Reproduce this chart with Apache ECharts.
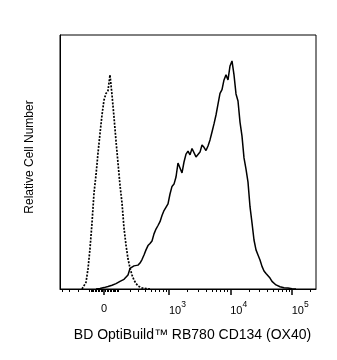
<!DOCTYPE html>
<html>
<head>
<meta charset="utf-8">
<script src="https://cdn.jsdelivr.net/npm/echarts@6/dist/echarts.min.js"></script>
<style>
  html, body { margin: 0; padding: 0; background: #fff; }
  #chart { width: 337px; height: 360px; }
</style>
</head>
<body>
<div id="chart"></div>
<script>
// Histogram bins on a 256-channel biexponential display scale
const binWidth = 2;

// OX40 (CD134) stained cells, relative counts per bin
const stainedStart = 36;
const stained = [
  0, 0, 0.2, 0.4, 0.55, 0.8, 1.0, 1.2, 1.5, 1.7,
  2.1, 2.5, 3.0, 3.3, 3.8, 4.3, 5.5, 8.1, 8.7, 9.1,
  9.3, 9.4, 10.2, 11.6, 13.4, 15.4, 17.1, 17.9, 18.9, 21.7,
  23.6, 25.0, 26.5, 28.9, 30.9, 31.5, 33.5, 37.4, 40.4, 41.3,
  44.1, 49.6, 49.8, 45.7, 50.0, 53.1, 54.3, 52.8, 55.3, 54.7,
  52.0, 52.0, 53.9, 56.7, 55.8, 54.5, 56.3, 58.7, 61.8, 65.0,
  68.5, 72.8, 77.0, 78.5, 82.3, 84.3, 82.3, 87.8, 89.8, 84.3,
  76.8, 74.0, 65.7, 60.2, 51.6, 47.2, 42.1, 32.4, 26.0, 19.3,
  15.4, 13.4, 11.4, 8.9, 7.1, 6.1, 5.5, 4.3, 3.0, 2.4,
  1.6, 1.2, 0.9, 0.7, 0.5, 0.4, 0.35, 0.3, 0.1, 0.05,
  0
];

// Isotype control, relative counts per bin
const isotypeStart = 22;
const isotype = [
  0, 0, 2.6, 7.9, 15.9, 26.0, 37.8, 44.9, 53.5, 61.2,
  68.5, 74.4, 77.0, 78.1, 84.3, 76.4, 67.7, 58.3, 49.6, 40.9,
  33.9, 24.0, 17.3, 11.8, 8.3, 5.5, 3.5, 2.2, 1.2, 0.8,
  0.4, 0.25, 0.15, 0.05, 0
];

// Axis ticks in fluorescence units
const majorTicks = [0, 1e3, 1e4, 1e5];
const majorExponents = ['', '3', '4', '5'];
const minorTicks = [
  -400, -300, -200, -100, -90, -80, -70, -60, -50, -40, -30, -20, -10,
  10, 20, 30, 40, 50, 60, 70, 80, 90, 100, 200, 300, 400, 500, 600, 700, 800, 900,
  2000, 3000, 4000, 5000, 6000, 7000, 8000, 9000,
  20000, 30000, 40000, 50000, 60000, 70000, 80000, 90000, 200000
];

// Biexponential (arcsinh) mapping from fluorescence to display channel
const CH_ZERO = 44, CH_SCALE = 26.7, CH_COFACTOR = 176.8;
const toChannel = v => CH_ZERO + CH_SCALE * Math.asinh(v / CH_COFACTOR);

const toPairs = (start, values) => values.map((y, i) => [start + i * binWidth, y]);

const majorCh = majorTicks.map(toChannel);
const minorCh = minorTicks.map(toChannel);
const powerCh = majorCh.slice(1);

const font = '"Liberation Sans", Arial, sans-serif';

const chart = echarts.init(document.getElementById('chart'), null, { renderer: 'canvas' });
chart.setOption({
  animation: false,
  backgroundColor: '#fff',
  grid: {
    left: 60, top: 35, right: 21, bottom: 71,
    show: true, borderColor: '#000', borderWidth: 1, backgroundColor: 'transparent'
  },
  xAxis: [
    {
      type: 'value', min: 0, max: 256, position: 'bottom',
      name: 'BD OptiBuild™ RB780 CD134 (OX40)',
      nameLocation: 'middle', nameGap: 39,
      nameTextStyle: { fontFamily: font, fontSize: 14, color: '#000', padding: [0, 0, 0, 9] },
      axisLine: { show: true, lineStyle: { color: '#000', width: 1 } },
      axisTick: { show: true, length: 6, customValues: majorCh, lineStyle: { color: '#000', width: 1.5 } },
      axisLabel: {
        show: true, customValues: powerCh, align: 'left', margin: 11,
        formatter: v => {
          let k = 0, best = Infinity;
          majorCh.forEach((c, i) => { const d = Math.abs(c - v); if (d < best) { best = d; k = i; } });
          return '{b|10}{s|' + majorExponents[k] + '}';
        },
        rich: {
          b: { fontFamily: font, fontSize: 11, color: '#000', padding: [5, 0, 0, 0] },
          s: { fontFamily: font, fontSize: 8.5, color: '#000', verticalAlign: 'top' }
        }
      },
      splitLine: { show: false }
    },
    {
      type: 'value', min: 0, max: 256, position: 'bottom',
      axisLine: { show: false },
      axisTick: { show: true, length: 3, customValues: minorCh, lineStyle: { color: '#000', width: 1 } },
      axisLabel: {
        show: true, customValues: [majorCh[0]], margin: 14,
        formatter: () => '0',
        fontFamily: font, fontSize: 11, color: '#000'
      },
      splitLine: { show: false }
    }
  ],
  yAxis: {
    type: 'value', min: 0, max: 100,
    name: 'Relative Cell Number', nameLocation: 'middle', nameGap: 24, nameRotate: 90,
    nameTextStyle: { fontFamily: font, fontSize: 12, color: '#000', padding: [0, 0, 0, 10] },
    axisLine: { show: true, lineStyle: { color: '#000' } },
    axisTick: { show: false }, axisLabel: { show: false }, splitLine: { show: false }
  },
  series: [
    {
      name: 'Isotype', type: 'line', xAxisIndex: 0, symbol: 'none',
      data: toPairs(isotypeStart, isotype),
      lineStyle: { color: '#000', width: 1.7, type: [2, 1.4] }
    },
    {
      name: 'CD134', type: 'line', xAxisIndex: 0, symbol: 'none',
      data: toPairs(stainedStart, stained),
      lineStyle: { color: '#000', width: 1.5 }
    }
  ]
});
</script>
</body>
</html>
